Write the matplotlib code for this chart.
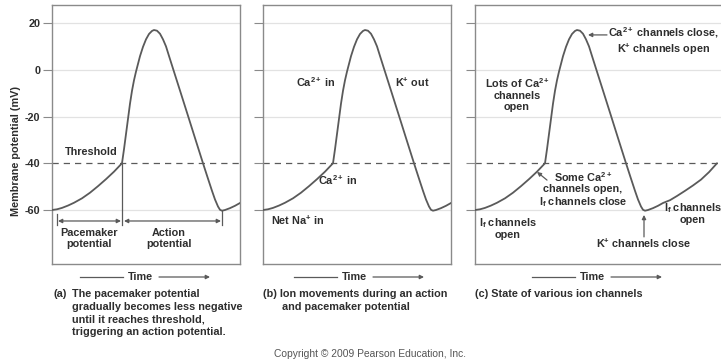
import matplotlib
matplotlib.use("Agg")
import matplotlib.pyplot as plt
from matplotlib.patches import FancyArrowPatch

# ---------------- data ----------------
time_pts = [0, 5, 10, 16, 22, 30, 38, 46, 54, 62, 70,
            72, 74, 76, 78, 80, 82, 84, 86, 88, 91, 94, 97, 100, 102,
            105, 108, 111, 114, 117, 121, 128, 136, 143, 151,
            156, 160, 163, 166, 168, 170, 173, 178, 183, 188,
            195, 202, 210, 218, 226, 234, 242]
membrane_mv = [-60, -59.7, -59.1, -58.1, -56.9, -55, -52.6, -49.8, -46.8, -43.6, -40,
               -34, -27.5, -21, -14.5, -9, -4.5, -0.8, 2.5, 5.8, 9.8, 13, 15.3, 16.6, 17,
               16.7, 15.4, 13, 10, 5.9, 0.5, -8.9, -19.7, -29.2, -40,
               -46.6, -51.8, -55.5, -58.5, -59.9, -60.3, -60, -59.2, -58.2, -57,
               -55.8, -54, -51.8, -49.5, -47, -43.8, -40]
yticks = [20, 0, -20, -40, -60]
grid_levels = [20, 0, -20, -60]
threshold_mv = -40

# ---------------- style ----------------
plt.rcParams['font.family'] = ['Liberation Sans', 'DejaVu Sans']
plt.rcParams['font.weight'] = 'bold'
plt.rcParams['axes.unicode_minus'] = False
plt.rcParams['mathtext.fontset'] = 'custom'
plt.rcParams['mathtext.rm'] = 'Liberation Sans:bold'
plt.rcParams['mathtext.bf'] = 'Liberation Sans:bold'
plt.rcParams['mathtext.it'] = 'Liberation Sans:bold'

TXT = '#2e2e2e'
LINE = '#5a5a5a'
BORDER = '#8a8a8a'
GRID = '#e2e2e2'
FS = 7.8

W, H = 721, 361
fig = plt.figure(figsize=(W / 100, H / 100), dpi=100)

ymin, ymax = -83.1, 27.7
top_px, bot_px = 5, 264


def make_ax(left_px, width_px, xmax):
    ax = fig.add_axes([left_px / W, 1 - bot_px / H, width_px / W, (bot_px - top_px) / H])
    ax.set_xlim(0, xmax)
    ax.set_ylim(ymin, ymax)
    for lv in grid_levels:
        ax.axhline(lv, color=GRID, lw=0.9, zorder=0)
    ax.axhline(threshold_mv, color=LINE, lw=0.9, ls=(0, (5, 4)), zorder=1)
    ax.plot(time_pts, membrane_mv, color=LINE, lw=1.3, zorder=3,
            solid_capstyle='round', solid_joinstyle='round')
    ax.set_xticks([])
    ax.set_yticks(yticks)
    ax.tick_params(axis='y', length=6.5, width=0.8, color=BORDER, pad=2,
                   labelsize=FS, labelcolor=TXT)
    for sp in ax.spines.values():
        sp.set_color(BORDER)
        sp.set_linewidth(1.0)
    return ax


ax_a = make_ax(52, 188, 188)
ax_b = make_ax(263, 188, 188)
ax_c = make_ax(475, 270, 270)
ax_b.set_yticklabels([])
ax_c.set_yticklabels([])
for lab in ax_a.get_yticklabels():
    lab.set_fontweight('bold')

fig.text(16 / W, 1 - 151 / H, 'Membrane potential (mV)', rotation=90,
         ha='center', va='center', fontsize=FS, color=TXT, fontweight='bold')


def txt(ax, x, y, s, **kw):
    kw.setdefault('ha', 'center')
    kw.setdefault('va', 'center')
    ax.text(x, y, s, fontsize=FS, color=TXT, fontweight='bold',
            linespacing=1.1, **kw)


# ---- panel a annotations ----
txt(ax_a, 66, -37.5, 'Threshold', ha='right', va='bottom')
ax_a.plot([70, 70], [-40, -66.3], color=LINE, lw=0.9)
ax_a.plot([170, 170], [-60.5, -66.3], color=LINE, lw=0.9)
ax_a.plot([5, 5], [-61.5, -66.3], color=LINE, lw=0.9)
arr_y = -64.7
for x0, x1 in [(6, 69), (72, 169)]:
    ax_a.annotate('', xy=(x1, arr_y), xytext=(x0, arr_y),
                  arrowprops=dict(arrowstyle='<|-|>', color=LINE, lw=0.9,
                                  mutation_scale=6, shrinkA=0, shrinkB=0))
txt(ax_a, 37, -72.2, 'Pacemaker\npotential')
txt(ax_a, 117, -72.2, 'Action\npotential')

# ---- panel b annotations ----
txt(ax_b, 53, -5.2, 'Ca$^{2+}$ in')
txt(ax_b, 149, -5.2, 'K$^{+}$ out')
txt(ax_b, 75, -47.2, 'Ca$^{2+}$ in')
txt(ax_b, 35, -64.3, 'Net Na$^{+}$ in')

# ---- panel c annotations ----
txt(ax_c, 189, 12.3, 'Ca$^{2+}$ channels close,\nK$^{+}$ channels open')
ax_c.annotate('', xy=(113, 14.9), xytext=(132, 14.9),
              arrowprops=dict(arrowstyle='-|>', color=LINE, lw=0.9,
                              mutation_scale=6, shrinkA=0, shrinkB=0))
txt(ax_c, 42, -10.4, 'Lots of Ca$^{2+}$\nchannels\nopen')
txt(ax_c, 108, -51.2, 'Some Ca$^{2+}$\nchannels open,\nI$_{f}$ channels close')
ax_c.annotate('', xy=(62, -43.7), xytext=(72, -47.2),
              arrowprops=dict(arrowstyle='-|>', color=LINE, lw=0.9,
                              mutation_scale=6, shrinkA=0, shrinkB=0))
txt(ax_c, 33, -67.7, 'I$_{f}$ channels\nopen')
txt(ax_c, 169, -74.1, 'K$^{+}$ channels close')
ax_c.annotate('', xy=(169, -62.1), xytext=(169, -71.5),
              arrowprops=dict(arrowstyle='-|>', color=LINE, lw=0.9,
                              mutation_scale=6, shrinkA=0, shrinkB=0))
txt(ax_c, 218, -61.3, 'I$_{f}$ channels\nopen')

# ---- Time arrows ----
ty = 1 - 277 / H
for cx in [140, 354, 592]:
    fig.text(cx / W, ty, 'Time', ha='center', va='center', fontsize=FS,
             color=TXT, fontweight='bold')
    fig.add_artist(plt.Line2D([(cx - 60) / W, (cx - 17) / W], [ty, ty],
                              color=LINE, lw=0.9))
    fig.add_artist(FancyArrowPatch(((cx + 19) / W, ty), ((cx + 70) / W, ty),
                                   transform=fig.transFigure, arrowstyle='-|>',
                                   mutation_scale=6, color=LINE, lw=0.9,
                                   shrinkA=0, shrinkB=0))

# ---- captions ----
def cap(x, y, s):
    fig.text(x / W, 1 - y / H, s, ha='left', va='center', fontsize=FS,
             color=TXT, fontweight='bold')

cap(53, 294, '(a)')
for i, line in enumerate(['The pacemaker potential',
                          'gradually becomes less negative',
                          'until it reaches threshold,',
                          'triggering an action potential.']):
    cap(72, 294 + 12.6 * i, line)
cap(263, 294, '(b) Ion movements during an action')
cap(282, 306.6, 'and pacemaker potential')
cap(475, 294, '(c) State of various ion channels')

fig.text(370 / W, 1 - 354 / H, 'Copyright \u00a9 2009 Pearson Education, Inc.',
         ha='center', va='center', fontsize=7.4, color='#555555', fontweight='normal')

fig.savefig('out.png', dpi=100)
